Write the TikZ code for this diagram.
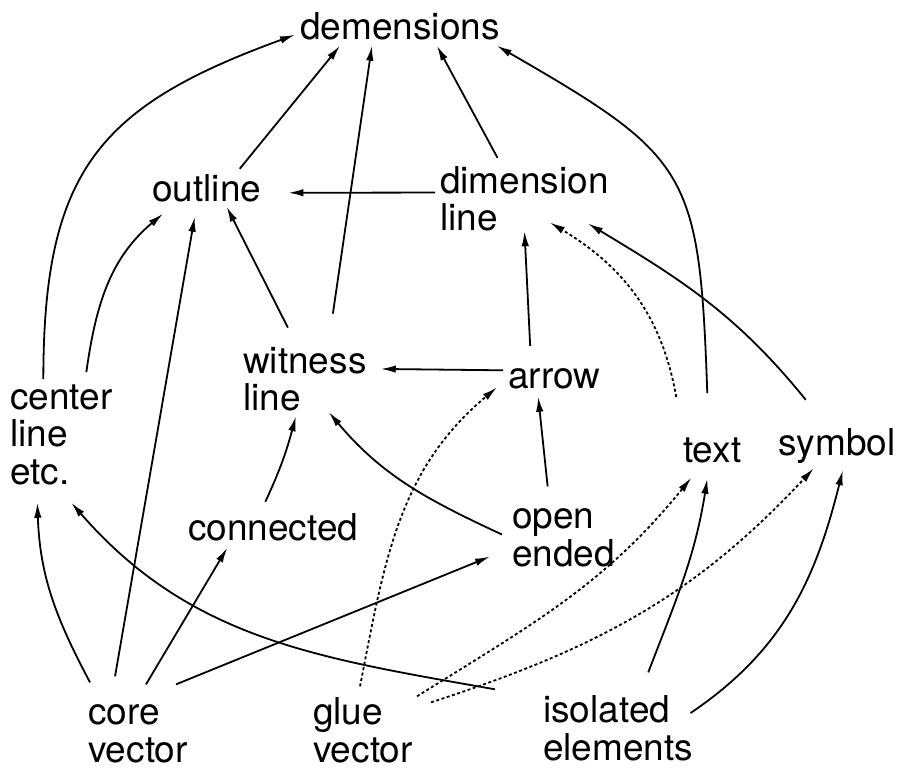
\documentclass[tikz,border=0pt]{standalone}
\usepackage{fontspec}
\setmainfont{TeX Gyre Heros}
\usetikzlibrary{arrows.meta}

\begin{document}
\begin{tikzpicture}[x=1pt,y=1pt,
    lbl/.style={anchor=base west,inner sep=5pt,align=left,
      font=\fontsize{37pt}{37.5pt}\selectfont},
    glue/.style={dash pattern=on 3pt off 2.5pt}]
      \useasboundingbox (0,0) rectangle (901,-773);
      % multi-line labels sit on the baseline of their last line
      \draw
        (295,-40) node[lbl] (demensions){demensions}
        (147,-201) node[lbl] (outline){outline}
        (435,-230.5) node[lbl] (dimline){dimension\\line}
        (238,-410.5) node[lbl] (witness){witness\\line}
        (503,-388) node[lbl] (arrow){arrow}
        (5,-484) node[lbl] (centerline){center\\line\\etc.}
        (678,-462) node[lbl] (text){text}
        (773,-455) node[lbl] (symbol){symbol}
        (183,-540) node[lbl] (connected){connected}
        (507,-566) node[lbl] (openended){open\\ended}
        (83,-762) node[lbl] (corevector){core\\vector}
        (308,-762) node[lbl] (gluevector){glue\\vector}
        (538,-760) node[lbl] (isolated){isolated\\elements};
      \begin{scope}[line width=1.8pt,-{Latex[length=15pt,width=7.5pt]}]
        \draw ([xshift=-18pt]centerline.north) to[out=90,in=200,looseness=1.25] ([yshift=-8pt]demensions.west);
        \draw ([xshift=33pt]outline.north) to ([xshift=45pt]demensions.south west);
        \draw ([xshift=28pt,yshift=28pt]witness.north) to ([xshift=-28pt]demensions.south);
        \draw ([xshift=-27pt,yshift=3pt]dimline.north) to ([xshift=37pt]demensions.south);
        \draw ([xshift=-5pt,yshift=39pt]text.north) to[out=92,in=-30,looseness=1.4] ([xshift=-8pt]demensions.south east);
        \draw ([yshift=6pt]dimline.west) to ([xshift=22pt,yshift=-5pt]outline.east);
        \draw ([xshift=-17pt,yshift=14pt]witness.north) to ([xshift=20pt]outline.south);
        \draw ([xshift=25pt,yshift=7pt]centerline.north) to[out=82,in=220] ([xshift=16pt,yshift=-7pt]outline.south west);
        \draw ([xshift=-23pt,yshift=23pt]corevector.north) to ([xshift=-12pt,yshift=-10pt]outline.south);
        \draw ([xshift=-24pt,yshift=17pt]arrow.north) to ([yshift=5pt]dimline.south);
        \draw[glue] ([xshift=-36pt,yshift=35pt]text.north) to[out=100,in=-31] ([xshift=-64pt,yshift=-24pt]dimline.east);
        \draw ([xshift=-31pt,yshift=23pt]symbol.north) to[out=129,in=-31] ([xshift=-26pt,yshift=-25pt]dimline.east);
        \draw ([yshift=8pt]arrow.west) to ([xshift=9pt,yshift=10pt]witness.east);
        \draw ([xshift=-16pt,yshift=17pt]openended.north) to ([xshift=-16pt,yshift=-3pt]arrow.south);
        \draw ([xshift=-5pt,yshift=3pt]openended.west) to[out=155,in=-50] ([xshift=24pt,yshift=4pt]witness.south);
        \draw ([xshift=-8pt,yshift=6pt]connected.north) to[out=65,in=255] ([xshift=-9pt]witness.south);
        \draw ([xshift=-48pt,yshift=17pt]corevector.north) to[out=118,in=-88] ([xshift=-24pt,yshift=-13pt]centerline.south);
        \draw ([xshift=8pt,yshift=15pt]corevector.north) to ([xshift=-46pt,yshift=-2pt]connected.south);
        \draw ([xshift=38pt,yshift=15pt]corevector.north) to ([xshift=-17pt,yshift=-19pt]openended.west);
        \draw ([xshift=-43pt,yshift=1pt]isolated.north west) to[out=170,in=-49] ([xshift=10pt,yshift=-13pt]centerline.south);
        \draw[glue] ([xshift=-3pt,yshift=6pt]gluevector.north) to[out=79,in=220] ([xshift=-6pt,yshift=-9pt]arrow.west);
        \draw[glue] ([xshift=-1pt,yshift=-4pt]gluevector.north east) to[out=32,in=231] ([xshift=-21pt,yshift=-10pt]text.south);
        \draw[glue] ([xshift=13pt,yshift=-10pt]gluevector.north east) to[out=18,in=227] ([xshift=-23pt]symbol.south);
        \draw ([xshift=30pt,yshift=18pt]isolated.north) to[out=69,in=261] ([xshift=-5pt,yshift=-11pt]text.south);
        \draw ([xshift=-8pt,yshift=15pt]isolated.east) to[out=34,in=256] ([xshift=6pt,yshift=-2pt]symbol.south);
      \end{scope}
    \end{tikzpicture}
\end{document}
